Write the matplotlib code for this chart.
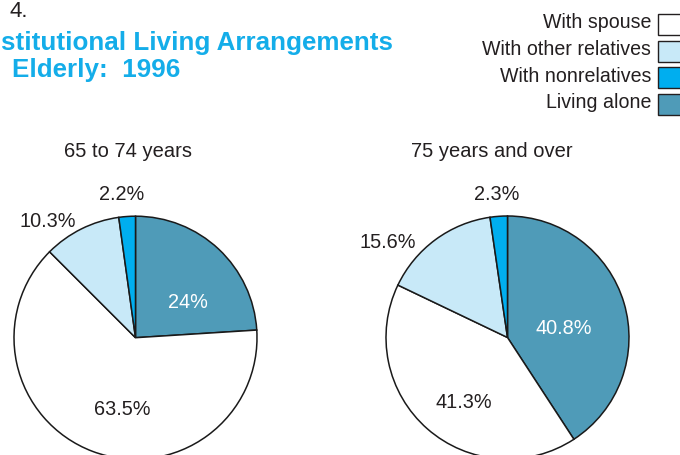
import matplotlib
matplotlib.use("Agg")
import matplotlib.pyplot as plt
from matplotlib.patches import Rectangle

# ---------------- data ----------------
categories = ["With spouse", "With other relatives", "With nonrelatives", "Living alone"]
age_65_74 = [63.5, 10.3, 2.2, 24.0]
age_75_over = [41.3, 15.6, 2.3, 40.8]
group_titles = ["65 to 74 years", "75 years and over"]
title_line1 = "stitutional Living Arrangements"
title_line2 = "Elderly:  1996"
fig_number = "4."

# ---------------- style ----------------
colors = {"With spouse": "#FFFFFF", "With other relatives": "#C8E9F8",
          "With nonrelatives": "#00AEEF", "Living alone": "#4F9BB8"}
pie_order = [3, 0, 1, 2]          # clockwise from 12 o'clock
text_col = "#231F20"
title_col = "#14ADE9"

base_font = ["Liberation Sans", "DejaVu Sans"]
plt.rcParams["font.family"] = base_font

W, H = 680, 455
fig = plt.figure(figsize=(6.8, 4.55), dpi=100)
ax = fig.add_axes([0, 0, 1, 1])

def Y(y):  # pixel row -> data y
    return H - y

pie_centers = [(135.5, 337.7), (507.5, 337.5)]
radius = 121.5
# label positions (offset from pie centre, pixels) and text colours, in pie_order
label_offsets = [
    [(52.0, -29.5), (-13.5, 77.5), (-88.0, -111.0), (-13.8, -137.7)],
    [(56.5, -3.5), (-43.2, 70.5), (-120.0, -89.5), (-10.5, -137.5)],
]
label_colors = ["white", text_col, text_col, text_col]

for k, vals in enumerate([age_65_74, age_75_over]):
    cx, cy = pie_centers[k]
    ordered = [vals[i] for i in pie_order]
    cols = [colors[categories[i]] for i in pie_order]
    ax.pie(ordered, colors=cols, startangle=90, counterclock=False,
           center=(cx, Y(cy)), radius=radius,
           wedgeprops=dict(edgecolor="#1A1A1A", linewidth=1.1))
    for j, v in enumerate(ordered):
        dx, dy = label_offsets[k][j]
        ax.text(cx + dx, Y(cy + dy), f"{v:g}%", ha="center", va="baseline",
                fontsize=14.3, color=label_colors[j])
    ax.text([127.5, 491.7][k], Y(157), group_titles[k], ha="center",
            va="baseline", fontsize=14.5, color=text_col)

# legend
for i, cat in enumerate(categories):
    base = [28, 55, 81.5, 108][i]
    ax.text(651, Y(base), cat, ha="right", va="baseline", fontsize=14.1, color=text_col)
    ax.add_patch(Rectangle((657.5, Y(base + 6.5)), 26, 21, facecolor=colors[cat],
                           edgecolor="#231F20", linewidth=1.0))

# titles
ax.text(393, Y(50), title_line1, ha="right", va="baseline", fontsize=18.75,
        fontweight="bold", color=title_col)
ax.text(12, Y(77), title_line2, ha="left", va="baseline", fontsize=18.75,
        fontweight="bold", color=title_col)
ax.text(9, Y(17), fig_number, ha="left", va="baseline", fontsize=16, color=text_col)

ax.set_xlim(0, W)
ax.set_ylim(0, H)
ax.set_aspect("equal")
ax.axis("off")
fig.savefig("out.png", dpi=100)
